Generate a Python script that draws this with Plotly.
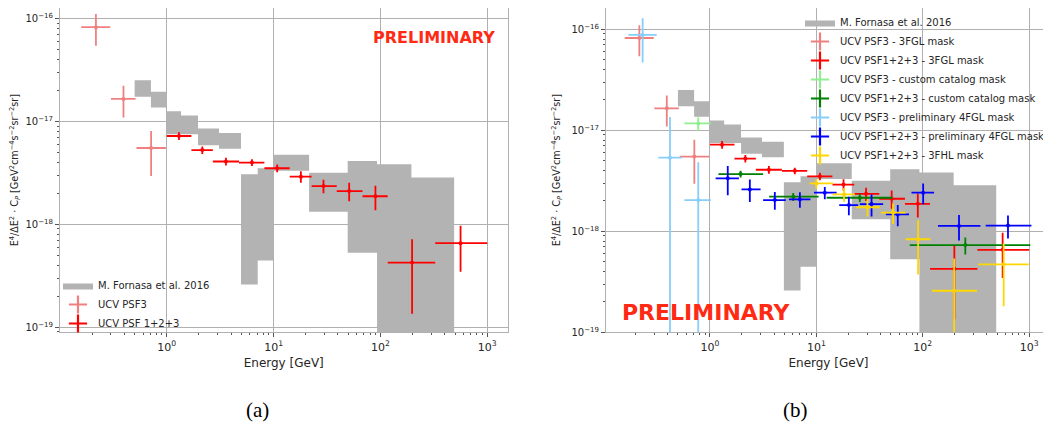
import plotly.graph_objects as go

# ---------------- data ----------------
# M. Fornasa et al. 2016 band (energy bins in GeV, lower/upper C_P)
fornasa_emin = [0.50, 0.71, 1.00, 1.36, 1.96, 3.08, 4.95, 7.10, 10.0, 21.5, 49.4, 93.0, 195.0]
fornasa_emax = [0.71, 1.00, 1.36, 1.96, 3.08, 4.95, 7.10, 10.0, 21.5, 49.4, 93.0, 195.0, 490.0]
fornasa_lo = [1.73e-17, 1.36e-17, 7.5e-18, 7.5e-18, 5.85e-18, 5.4e-18, 2.6e-19, 4.45e-19,
              3.3e-18, 1.32e-18, 5.3e-19, 1e-21, 1e-21]
fornasa_hi = [2.5e-17, 1.94e-17, 1.25e-17, 1.14e-17, 8.5e-18, 7.7e-18, 3.06e-18, 3.5e-18,
              4.72e-18, 3.16e-18, 4.12e-18, 3.83e-18, 2.85e-18]

# UCV PSF3 - 3FGL mask
psf3_e = [0.217, 0.393, 0.713]
psf3_emin = [0.158, 0.30, 0.52]
psf3_emax = [0.296, 0.51, 0.98]
psf3_cp = [8.2e-17, 1.65e-17, 5.5e-18]
psf3_err = [2.8e-17, 5.6e-18, 2.55e-18]

# UCV PSF1+2+3 - 3FGL mask
psf123_e = [1.30, 2.15, 3.58, 6.27, 10.8, 18.0, 29.3, 51.0, 89.8, 198.0, 563.0]
psf123_emin = [1.00, 1.70, 2.70, 4.74, 8.2, 14.15, 22.7, 39.0, 68.0, 117.0, 326.0]
psf123_emax = [1.70, 2.70, 4.74, 8.2, 14.15, 22.7, 39.0, 68.0, 117.0, 326.0, 1000.0]
psf123_cp = [7.2e-18, 5.25e-18, 4.07e-18, 3.97e-18, 3.5e-18, 2.9e-18, 2.35e-18, 2.1e-18,
             1.87e-18, 4.25e-19, 6.55e-19]
psf123_err = [6.3e-19, 4.5e-19, 3.5e-19, 3.0e-19, 3.0e-19, 3.7e-19, 3.5e-19, 4.3e-19,
              5.0e-19, 2.9e-19, 3.1e-19]

# UCV PSF3 - custom catalog mask
psf3c_e = [0.776]
psf3c_emin = [0.575]
psf3c_emax = [1.02]
psf3c_cp = [1.17e-17]
psf3c_err = [1.8e-18]

# UCV PSF1+2+3 - custom catalog mask
psf123c_e = [1.94, 6.06, 25.6, 251.0]
psf123c_emin = [1.20, 3.60, 12.5, 75.5]
psf123c_emax = [3.16, 10.5, 51.9, 1025.0]
psf123c_cp = [3.69e-18, 2.2e-18, 2.15e-18, 7.3e-19]
psf123c_err = [2.8e-19, 2.0e-19, 2.0e-19, 1.4e-19]

# UCV PSF3 - preliminary 4FGL mask
psf34_e = [0.233, 0.421, 0.776]
psf34_emin = [0.171, 0.327, 0.575]
psf34_emax = [0.316, 0.542, 1.02]
psf34_cp = [8.8e-17, 5.36e-18, 2.04e-18]
psf34_err = [4.1e-17, 8.2e-18, 2.8e-18]

# UCV PSF1+2+3 - preliminary 4FGL mask
psf1234_e = [1.47, 2.37, 4.07, 7.0, 12.0, 20.2, 33.0, 58.2, 100.8, 219.0, 632.0]
psf1234_emin = [1.13, 1.98, 3.16, 5.52, 9.5, 16.4, 25.6, 45.0, 78.3, 139.0, 390.0]
psf1234_emax = [1.87, 2.99, 5.17, 8.8, 15.5, 24.7, 42.4, 74.3, 127.7, 348.0, 1050.0]
psf1234_cp = [3.35e-18, 2.6e-18, 2.04e-18, 2.07e-18, 2.41e-18, 1.82e-18, 1.86e-18, 1.47e-18,
              2.41e-18, 1.13e-18, 1.14e-18]
psf1234_err = [1.08e-18, 6.5e-19, 4.1e-19, 3.6e-19, 3.3e-19, 3.8e-19, 4.6e-19, 3.5e-19,
               5.6e-19, 3.2e-19, 2.9e-19]

# UCV PSF1+2+3 - 3FHL mask
psf123h_e = [10.0, 18.2, 30.2, 52.6, 90.4, 197.0, 576.0]
psf123h_emin = [8.6, 14.2, 23.5, 40.3, 68.8, 122.0, 331.0]
psf123h_emax = [14.4, 23.0, 39.5, 69.2, 118.0, 324.0, 990.0]
psf123h_cp = [2.98e-18, 2.32e-18, 1.73e-18, 1.53e-18, 8.34e-19, 2.58e-19, 4.71e-19]
psf123h_err = [3.2e-19, 3.6e-19, 3.3e-19, 3.5e-19, 4.6e-19, 2.8e-19, 2.9e-19]

x_tick_exps = [0, 1, 2, 3]
y_tick_exps = [-19, -18, -17, -16]

# ---------------- figure ----------------
W, H = 1051, 432
OX, OY = 8, 8   # page offset of the figure inside the browser window


def px(wx):
    return (wx - OX) / W


def py(wy):
    return (H - (wy - OY)) / H


fig = go.Figure()

GRID = "#b0b0b0"
TXT = "#262626"


def band_trace(xa, ya, legend, showlegend):
    xs, ys = [], []
    for a, b, lo, hi in zip(fornasa_emin, fornasa_emax, fornasa_lo, fornasa_hi):
        xs += [a, b, b, a, a, None]
        ys += [lo, lo, hi, hi, lo, None]
    return go.Scatter(x=xs, y=ys, mode="lines", fill="toself", fillcolor="#b3b3b3",
                      line=dict(width=0, color="#b3b3b3"), name="M. Fornasa et al. 2016",
                      xaxis=xa, yaxis=ya, legend=legend, showlegend=showlegend,
                      hoverinfo="skip")


def err_trace(e, emin, emax, cp, err, color, xa, ya, width=1.8):
    return go.Scatter(
        x=e, y=cp, mode="markers",
        marker=dict(color=color, size=4),
        error_x=dict(type="data", symmetric=False,
                     array=[b - c for b, c in zip(emax, e)],
                     arrayminus=[c - a for a, c in zip(emin, e)],
                     color=color, thickness=width, width=0),
        error_y=dict(type="data", array=err, color=color, thickness=width, width=0),
        xaxis=xa, yaxis=ya, showlegend=False)


def legend_trace(name, color, xa, ya, legend):
    return go.Scatter(x=[None], y=[None], mode="markers", name=name,
                      marker=dict(symbol="cross-thin", size=13, color=color,
                                  line=dict(color=color, width=2.2)),
                      xaxis=xa, yaxis=ya, legend=legend, showlegend=True)


# ---- panel (a)
fig.add_trace(band_trace("x", "y", "legend", True))
fig.add_trace(err_trace(psf3_e, psf3_emin, psf3_emax, psf3_cp, psf3_err, "#f08080", "x", "y"))
fig.add_trace(err_trace(psf123_e, psf123_emin, psf123_emax, psf123_cp, psf123_err, "#ff0000", "x", "y"))
fig.add_trace(legend_trace("UCV PSF3", "#f08080", "x", "y", "legend"))
fig.add_trace(legend_trace("UCV PSF 1+2+3", "#ff0000", "x", "y", "legend"))

# ---- panel (b)
series_b = [
    ("UCV PSF3 - 3FGL mask", "#f08080", psf3_e, psf3_emin, psf3_emax, psf3_cp, psf3_err),
    ("UCV PSF1+2+3 - 3FGL mask", "#ff0000", psf123_e, psf123_emin, psf123_emax, psf123_cp, psf123_err),
    ("UCV PSF3 - custom catalog mask", "#90ee90", psf3c_e, psf3c_emin, psf3c_emax, psf3c_cp, psf3c_err),
    ("UCV PSF1+2+3 - custom catalog mask", "#008000", psf123c_e, psf123c_emin, psf123c_emax, psf123c_cp, psf123c_err),
    ("UCV PSF3 - preliminary 4FGL mask", "#87cefa", psf34_e, psf34_emin, psf34_emax, psf34_cp, psf34_err),
    ("UCV PSF1+2+3 - preliminary 4FGL mask", "#0000ff", psf1234_e, psf1234_emin, psf1234_emax, psf1234_cp, psf1234_err),
    ("UCV PSF1+2+3 - 3FHL mask", "#ffd700", psf123h_e, psf123h_emin, psf123h_emax, psf123h_cp, psf123h_err),
]
fig.add_trace(band_trace("x2", "y2", "legend2", True))
for name, col, e, emin, emax, cp, err in series_b:
    fig.add_trace(err_trace(e, emin, emax, cp, err, col, "x2", "y2"))
for name, col, *_ in series_b:
    fig.add_trace(legend_trace(name, col, "x2", "y2", "legend2"))

# ---------------- axes ----------------
def sup(n):
    return "10<sup>%s</sup>" % (str(n).replace("-", "\u2212"))

x_vals = [10.0 ** p for p in x_tick_exps]
x_text = [sup(p) for p in x_tick_exps]
y_vals = [10.0 ** p for p in y_tick_exps]
y_text = [sup(p) for p in y_tick_exps]
x_minor = [k * 10.0 ** p for p in range(-1, 4) for k in range(2, 10)]
y_minor = [k * 10.0 ** p for p in range(-20, -15) for k in range(2, 10)]

ytitle = ("E<sup>4</sup>/\u0394E<sup>2</sup> \u00b7 C<sub><i>P</i></sub> [GeV<sup>2</sup>cm<sup>\u22124</sup>"
          "s<sup>\u22122</sup>sr<sup>\u22122</sup>sr]")

common_x = dict(type="log", tickmode="array", tickvals=x_vals, ticktext=x_text,
                automargin=False,
                showgrid=True, gridcolor=GRID, gridwidth=1, showline=True, linecolor=GRID,
                linewidth=1, ticks="outside", ticklen=4, tickcolor="#555", zeroline=False,
                tickfont=dict(family="DejaVu Sans", size=11, color=TXT),
                minor=dict(tickmode="array", tickvals=x_minor, ticks="outside", ticklen=2,
                           tickcolor="#555", showgrid=False),
                title=dict(text="Energy [GeV]", font=dict(family="DejaVu Sans", size=12, color=TXT),
                           standoff=6))
common_y = dict(type="log", tickmode="array", tickvals=y_vals, ticktext=y_text,
                automargin=False,
                showgrid=True, gridcolor=GRID, gridwidth=1, showline=True, linecolor=GRID,
                linewidth=1, ticks="outside", ticklen=4, tickcolor="#555", zeroline=False,
                tickfont=dict(family="DejaVu Sans", size=10, color=TXT),
                minor=dict(tickmode="array", tickvals=y_minor, ticks="outside", ticklen=2,
                           tickcolor="#555", showgrid=False),
                title=dict(text=ytitle, font=dict(family="DejaVu Sans", size=9.6, color=TXT),
                           standoff=9))

ybot = py(332.3)
fig.update_layout(
    xaxis=dict(common_x, domain=[px(60), px(507.5)], range=[-1.0, 3.19], anchor="y"),
    yaxis=dict(common_y, domain=[ybot, 1.0], range=[-19.049, -15.900], anchor="x", mirror=True),
    xaxis2=dict(common_x, domain=[px(606), px(1051)], range=[-0.977, 3.205], anchor="y2"),
    yaxis2=dict(common_y, domain=[ybot, 1.0], range=[-19.0, -15.789], anchor="x2"),
)

legend_font = dict(family="DejaVu Sans", size=10, color=TXT)


def ann(text, wx, wy, size, family="DejaVu Sans", color="black"):
    return dict(text=text, x=px(wx), y=py(wy), xref="paper", yref="paper",
                xanchor="center", yanchor="middle", showarrow=False,
                font=dict(family=family, size=size, color=color))


fig.update_layout(
    width=W, height=H,
    margin=dict(l=0, r=0, t=0, b=0, autoexpand=False),
    paper_bgcolor="white", plot_bgcolor="white",
    legend=dict(x=px(58), y=py(271), xanchor="left", yanchor="top",
                bgcolor="rgba(0,0,0,0)", font=legend_font, tracegroupgap=0),
    legend2=dict(x=px(800), y=1.0, xanchor="left", yanchor="top",
                 bgcolor="rgba(0,0,0,0)", font=legend_font, tracegroupgap=0),
    annotations=[
        ann("<b>PRELIMINARY</b>", 434, 37, 16, color="#ff2a14"),
        ann("<b>PRELIMINARY</b>", 706, 312, 22, color="#ff2a14"),
        ann("(a)", 257, 410, 21, family="Liberation Serif"),
        ann("(b)", 795, 410, 21, family="Liberation Serif"),
    ],
)

fig.write_html("out.html")
